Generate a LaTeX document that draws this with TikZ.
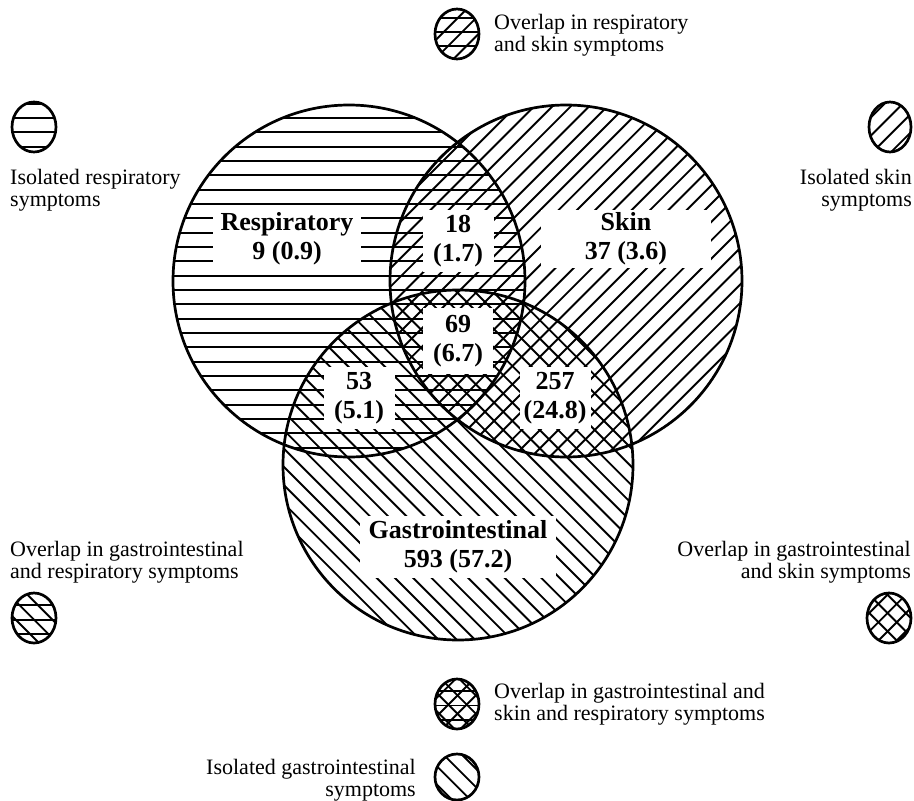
\documentclass[tikz,border=0pt]{standalone}
\usepackage{fontspec}
\setmainfont{Liberation Serif}
\newcommand{\PatH}[4]{%
  \pgfmathtruncatemacro{\pka}{floor((#3-161)/14.33)-1}%
  \pgfmathtruncatemacro{\pkb}{ceil((#4-161)/14.33)+1}%
  \foreach \k in {\pka,...,\pkb}{\draw[hatch] (#1,{161+14.33*\k}) -- (#2,{161+14.33*\k});}}
\newcommand{\PatS}[4]{%
  \pgfmathtruncatemacro{\pka}{floor((#1+#3)/18.3)-1}%
  \pgfmathtruncatemacro{\pkb}{ceil((#2+#4)/18.3)+1}%
  \foreach \k in {\pka,...,\pkb}{\draw[hatch] ({18.3*\k-(#4)},#4) -- ({18.3*\k-(#3)},#3);}}
\newcommand{\PatB}[4]{%
  \pgfmathtruncatemacro{\pka}{floor((#1-#4)/18.3)-1}%
  \pgfmathtruncatemacro{\pkb}{ceil((#2-#3)/18.3)+1}%
  \foreach \k in {\pka,...,\pkb}{\draw[hatch] ({18.3*\k+(#3)},#3) -- ({18.3*\k+(#4)},#4);}}
\begin{document}
\begin{tikzpicture}[x=1pt,y=-1pt,
  hatch/.style={line width=1.9pt},
  ring/.style={line width=2.7pt},
  lab/.style={fill=white, inner sep=0pt, align=center, font=\fontsize{26}{29}\selectfont\bfseries},
  leg/.style={inner sep=0pt, font=\fontsize{22}{22}\selectfont}]
\useasboundingbox (0,0) rectangle (914,801);
% ---- main hatching ----
\begin{scope}
  \clip (349,281) circle [radius=176];
  \PatH{170}{530}{100}{460}
\end{scope}
\begin{scope}
  \clip (566,281) circle [radius=176];
  \PatS{385}{745}{100}{460}
\end{scope}
\begin{scope}
  \clip (458,465) circle [radius=175];
  \PatB{280}{636}{287}{643}
\end{scope}
% ---- circle outlines ----
\draw[ring] (349,281) circle [radius=176];
\draw[ring] (566,281) circle [radius=176];
\draw[ring] (458,465) circle [radius=175];
% ---- labels ----
\node[lab, minimum width=148pt, minimum height=58pt] (lR) at (287,239) {Respiratory\\9 (0.9)};
\node[lab, minimum width=71pt, minimum height=62pt] (lRS) at (458,241) {18\\(1.7)};
\node[lab, minimum width=170pt, minimum height=58pt] (lS) at (626,239) {Skin\\37 (3.6)};
\node[lab, minimum width=70pt, minimum height=66pt] (lRSG) at (458,341) {69\\(6.7)};
\node[lab, minimum width=71pt, minimum height=62pt] (lRG) at (359,398) {53\\(5.1)};
\node[lab, minimum width=71pt, minimum height=62pt] (lSG) at (555,398) {257\\(24.8)};
\node[lab, minimum width=196pt, minimum height=62pt] (lG) at (458,547) {Gastrointestinal\\593 (57.2)};
% ---- legend icons ----
\begin{scope}\clip (457,34) ellipse [x radius=22, y radius=25];
  \PatH{430}{485}{5}{62}\PatS{430}{485}{5}{62}\end{scope}
\draw[ring] (457,34) ellipse [x radius=22, y radius=25];
\begin{scope}\clip (34,127) ellipse [x radius=22, y radius=25];
  \PatH{8}{60}{100}{155}\end{scope}
\draw[ring] (34,127) ellipse [x radius=22, y radius=25];
\begin{scope}\clip (890,127) ellipse [x radius=21, y radius=25];
  \PatS{865}{915}{100}{155}\end{scope}
\draw[ring] (890,127) ellipse [x radius=21, y radius=25];
\begin{scope}\clip (34,618) ellipse [x radius=22, y radius=25];
  \PatH{8}{60}{590}{646}\PatB{8}{60}{590}{646}\end{scope}
\draw[ring] (34,618) ellipse [x radius=22, y radius=25];
\begin{scope}\clip (889,618) ellipse [x radius=22, y radius=25];
  \PatS{864}{914}{590}{646}\PatB{864}{914}{590}{646}\end{scope}
\draw[ring] (889,618) ellipse [x radius=22, y radius=25];
\begin{scope}\clip (457,704) ellipse [x radius=22, y radius=25];
  \PatH{430}{485}{675}{731}\PatS{430}{485}{675}{731}\PatB{430}{485}{675}{731}\end{scope}
\draw[ring] (457,704) ellipse [x radius=22, y radius=25];
\begin{scope}\clip (457,777) ellipse [x radius=22, y radius=23];
  \PatB{430}{485}{750}{801}\end{scope}
\draw[ring] (457,777) ellipse [x radius=22, y radius=23];
% ---- legend texts ----
\node[leg, anchor=west, align=left] (tRS) at (494,35) {Overlap in respiratory\\and skin symptoms};
\node[leg, anchor=west, align=left] (tR) at (10,190) {Isolated respiratory\\symptoms};
\node[leg, anchor=east, align=right] (tS) at (912,190) {Isolated skin\\symptoms};
\node[leg, anchor=west, align=left] (tRG) at (10,562) {Overlap in gastrointestinal\\and respiratory symptoms};
\node[leg, anchor=east, align=right] (tSG) at (911,562) {Overlap in gastrointestinal\\and skin symptoms};
\node[leg, anchor=west, align=left] (tRSG) at (494,704) {Overlap in gastrointestinal and\\skin and respiratory symptoms};
\node[leg, anchor=east, align=right] (tG) at (416,780) {Isolated gastrointestinal\\symptoms};
\end{tikzpicture}
\end{document}
